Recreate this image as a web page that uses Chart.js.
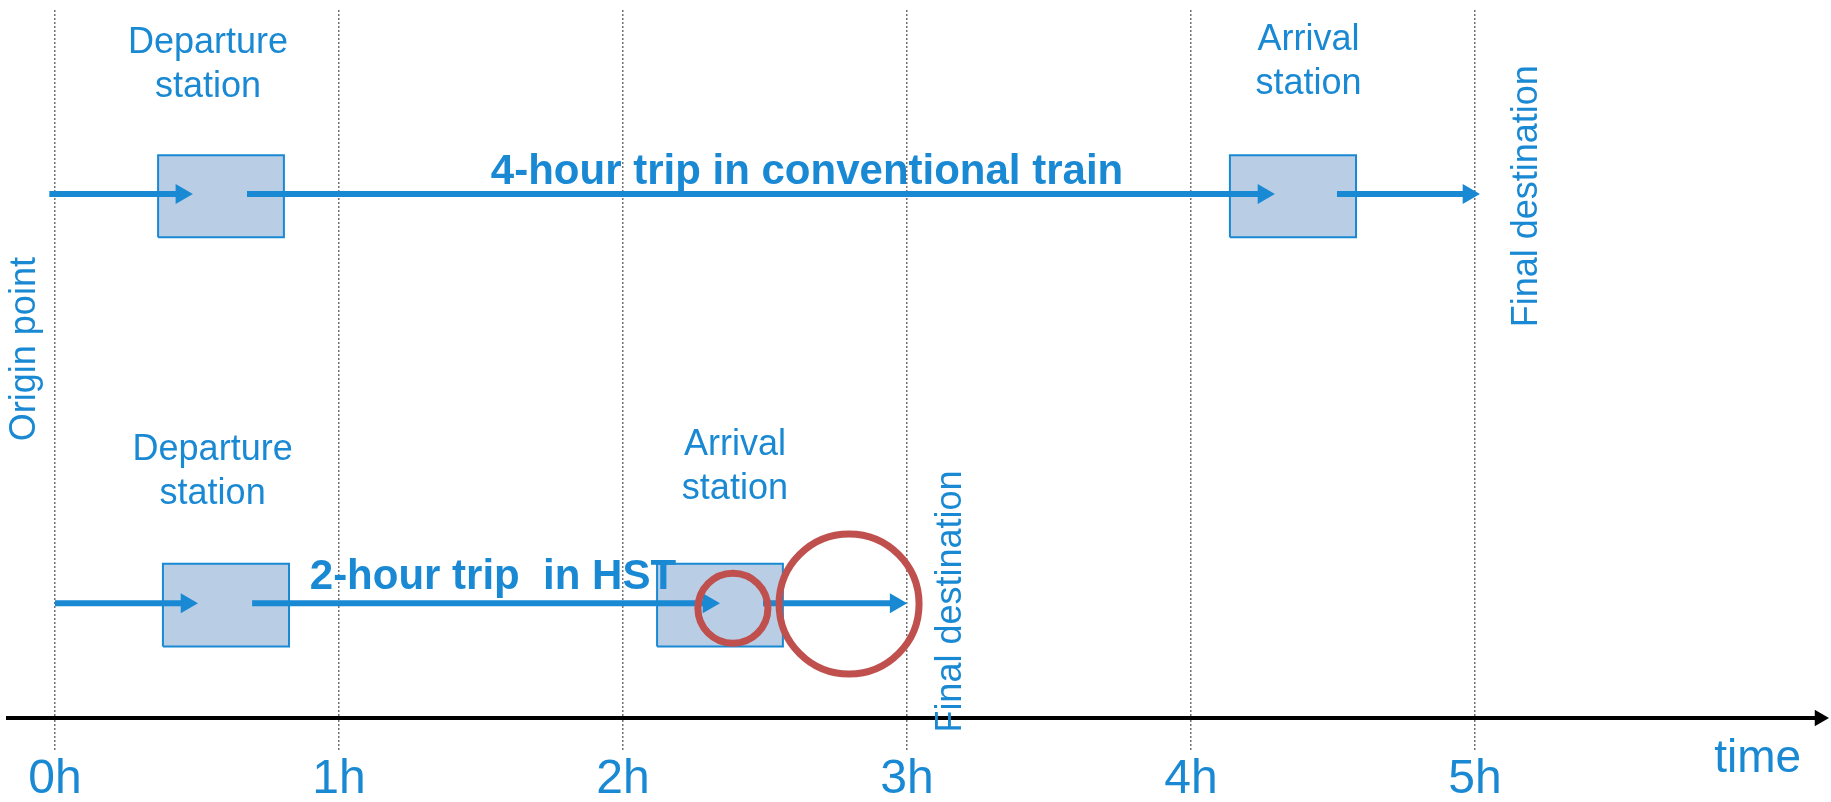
<!DOCTYPE html>
<html>
<head>
<meta charset="utf-8">
<title>Conventional train vs HST trip</title>
<script src="https://cdn.jsdelivr.net/npm/chart.js@4.4.0/dist/chart.umd.min.js"></script>
<style>
  html, body { margin: 0; padding: 0; background: #ffffff; }
  canvas { display: block; }
</style>
</head>
<body>
<canvas id="trip-chart" width="1831" height="802"></canvas>
<script>
// time axis (hours)
const hourValues = [0, 1, 2, 3, 4, 5];
const hourLabels = ['0h', '1h', '2h', '3h', '4h', '5h'];

// arrow segments [start, arrowhead] in hours, one list per trip
const conventionalSegments = [[-0.02, 0.445], [0.676, 4.255], [4.514, 4.977]];
const hstSegments = [[0.0, 0.463], [0.694, 2.301], [2.493, 2.960]];

// station boxes [from, to] in hours
const conventionalStations = [[0.363, 0.806], [4.137, 4.581]];
const hstStations = [[0.380, 0.824], [2.120, 2.563]];

// vertical levels of each trip row and its boxes
const conventionalLevel = 74;
const conventionalBox = [67.9, 79.5];
const hstLevel = 16.2;
const hstBox = [10.1, 21.8];

// red highlight circles (time, level)
const highlightSmall = [2.387, 15.5];
const highlightLarge = [2.796, 16.1];

// end of time axis
const axisEnd = 6.213;

const blue = '#1a89d3';
const boxFill = '#b9cde5';
const red = '#c0504d';
const fontFamily = '"Liberation Sans", Arial, sans-serif';

const annotations = [
    { lines: ['Departure', 'station'], x: 0.539, y: 92.2, size: 36 },
    { lines: ['Arrival', 'station'], x: 4.414, y: 92.6, size: 36 },
    { lines: ['4-hour trip in conventional train'], x: 2.648, y: 77.1, size: 42, bold: true },
    { lines: ['Final destination'], x: 5.182, y: 73.7, size: 36, rotate: true },
    { lines: ['Origin point'], x: -0.105, y: 52.1, size: 36, rotate: true },
    { lines: ['Departure', 'station'], x: 0.555, y: 34.75, size: 36 },
    { lines: ['Arrival', 'station'], x: 2.394, y: 35.4, size: 36 },
    { lines: ['2-hour trip  in HST'], x: 1.542, y: 19.9, size: 42, bold: true },
    { lines: ['Final destination'], x: 3.155, y: 16.45, size: 36, rotate: true },
    { lines: ['time'], x: 5.995, y: -5.85, size: 46 }
];

function boxDataset(range, box) {
    return {
        type: 'line',
        data: [
            { x: range[0], y: box[0] }, { x: range[0], y: box[1] },
            { x: range[1], y: box[1] }, { x: range[1], y: box[0] },
            { x: range[0], y: box[0] }
        ],
        borderColor: blue,
        borderWidth: 2,
        borderJoinStyle: 'miter',
        backgroundColor: boxFill,
        fill: 'shape',
        pointRadius: 0,
        order: 3,
        clip: false
    };
}

function arrowDataset(seg, level) {
    return {
        type: 'line',
        data: [{ x: seg[0], y: level }, { x: seg[1], y: level }],
        borderColor: blue,
        borderWidth: 6,
        borderCapStyle: 'butt',
        pointStyle: 'triangle',
        pointRotation: 90,
        pointRadius: [0, 11.5],
        pointBackgroundColor: blue,
        pointBorderWidth: 0,
        fill: false,
        order: 2,
        clip: false
    };
}

function circleDataset(pos, radius) {
    return {
        type: 'line',
        showLine: false,
        data: [{ x: pos[0], y: pos[1] }],
        pointStyle: 'circle',
        pointRadius: radius,
        pointBorderWidth: 7,
        pointBorderColor: red,
        pointBackgroundColor: 'rgba(0,0,0,0)',
        order: 1,
        clip: false
    };
}

const datasets = [];
conventionalStations.forEach(r => datasets.push(boxDataset(r, conventionalBox)));
hstStations.forEach(r => datasets.push(boxDataset(r, hstBox)));
conventionalSegments.forEach(s => datasets.push(arrowDataset(s, conventionalLevel)));
hstSegments.forEach(s => datasets.push(arrowDataset(s, hstLevel)));
datasets.push(circleDataset(highlightSmall, 35));
datasets.push(circleDataset(highlightLarge, 70));
// arrowhead of the time axis
datasets.push({
    type: 'line',
    showLine: false,
    data: [{ x: axisEnd, y: 0 }],
    pointStyle: 'triangle',
    pointRotation: 90,
    pointRadius: 9.5,
    pointBackgroundColor: '#000000',
    pointBorderWidth: 0,
    order: 0,
    clip: false
});

// texts placed on the chart's own scales
const textLabels = {
    id: 'textLabels',
    afterDatasetsDraw(chart) {
        const { ctx, scales: { x, y } } = chart;
        annotations.forEach(a => {
            ctx.save();
            ctx.translate(x.getPixelForValue(a.x), y.getPixelForValue(a.y));
            if (a.rotate) ctx.rotate(-Math.PI / 2);
            ctx.font = (a.bold ? 'bold ' : '') + a.size + 'px ' + fontFamily;
            ctx.fillStyle = blue;
            ctx.textAlign = 'center';
            ctx.textBaseline = 'middle';
            const lh = a.size * 1.22;
            a.lines.forEach((line, i) => {
                ctx.fillText(line, 0, (i - (a.lines.length - 1) / 2) * lh);
            });
            ctx.restore();
        });
    }
};

new Chart(document.getElementById('trip-chart'), {
    type: 'line',
    data: { datasets: datasets },
    plugins: [textLabels],
    options: {
        responsive: false,
        animation: false,
        events: [],
        layout: {
            autoPadding: false,
            padding: { left: 8, right: 11, top: 10, bottom: 0 }
        },
        plugins: {
            legend: { display: false },
            tooltip: { enabled: false }
        },
        scales: {
            x: {
                type: 'linear',
                position: 'bottom',
                min: -0.1655,
                max: 6.2148,
                afterBuildTicks: axis => {
                    axis.ticks = hourValues.map(v => ({ value: v }));
                },
                afterFit: axis => {
                    axis.height = 84;
                },
                ticks: {
                    autoSkip: false,
                    maxRotation: 0,
                    padding: 6,
                    color: blue,
                    font: { family: fontFamily, size: 48, lineHeight: 1 },
                    callback: value => hourLabels[hourValues.indexOf(value)]
                },
                grid: {
                    color: '#707070',
                    lineWidth: 1.5,
                    tickLength: 32,
                    tickColor: '#707070',
                    tickWidth: 1.5,
                    tickBorderDash: [2, 2]
                },
                border: { display: true, color: '#000000', width: 4, dash: [2, 2] }
            },
            y: {
                type: 'linear',
                display: false,
                min: 0,
                max: 100
            }
        }
    }
});
</script>
</body>
</html>
